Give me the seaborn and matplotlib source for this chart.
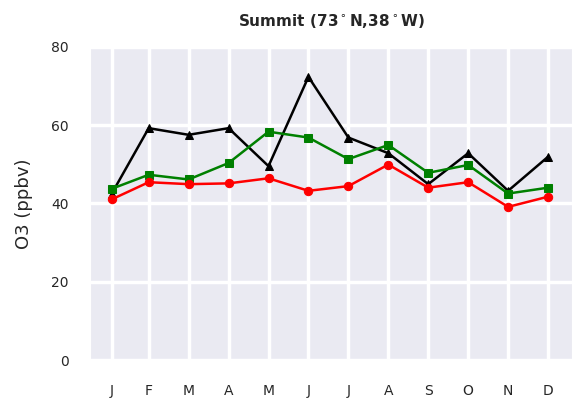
import matplotlib
matplotlib.use("Agg")
import matplotlib.pyplot as plt
import seaborn as sns
import pandas as pd

sns.set_style("darkgrid")

# month positions and labels
months = [1.07, 2, 3, 4, 5, 6, 7, 8, 9, 10, 11, 12]
month_labels = ["J", "F", "M", "A", "M", "J", "J", "A", "S", "O", "N", "D"]

# O3 (ppbv) for each series
black_vals = [42.4, 59.2, 57.5, 59.2, 49.5, 72.3, 56.8, 52.8, 44.9, 52.8, 43.2, 51.9]
green_vals = [43.7, 47.3, 46.1, 50.3, 58.3, 56.8, 51.3, 54.9, 47.8, 49.8, 42.5, 44.0]
red_vals = [41.0, 45.4, 44.9, 45.1, 46.4, 43.2, 44.4, 49.9, 44.0, 45.4, 39.1, 41.7]

series = [
    (black_vals, "black", "^"),
    (green_vals, "green", "s"),
    (red_vals, "red", "o"),
]

fig = plt.figure(figsize=(5.72, 4.05), dpi=100)
ax = fig.add_axes([90 / 572, 1 - 360 / 405, (572 - 90) / 572, (360 - 46.7) / 405])

for vals, color, marker in series:
    df = pd.DataFrame({"month": months, "o3": vals})
    sns.lineplot(data=df, x="month", y="o3", color=color, marker=marker,
                 markersize=6, markeredgecolor=color, linewidth=1.8, ax=ax)

ax.set_xlim(0.53, 12.6)
ax.set_ylim(0, 80)
ax.set_xticks(months)
ax.set_xticklabels(month_labels)
ax.set_yticks([0, 20, 40, 60, 80])
ax.grid(True, color="white", linewidth=2.5)
ax.tick_params(axis="x", pad=14, labelsize=10, colors="#262626")
ax.tick_params(axis="y", pad=12, labelsize=10, colors="#262626")
ax.set_xlabel("")
ax.set_ylabel("O3 (ppbv)", fontsize=13, labelpad=13)
ax.set_title("Summit (73$^\\circ$N,38$^\\circ$W)", fontsize=11, fontweight="bold", pad=15)

plt.savefig("out.png", dpi=100, facecolor="white")
